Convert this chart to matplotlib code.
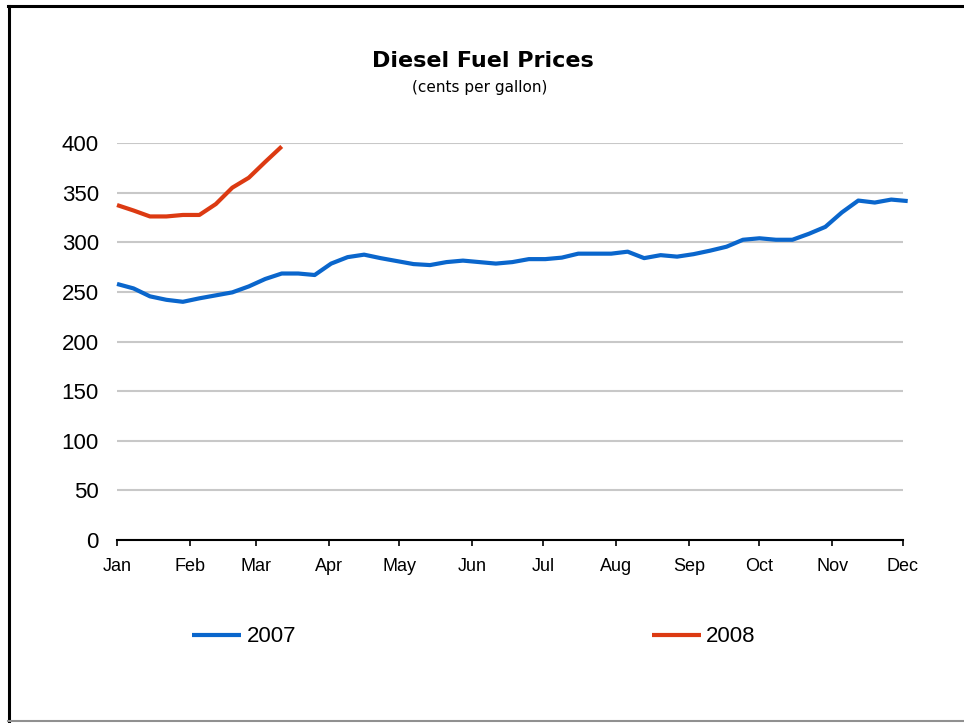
import matplotlib
matplotlib.use('Agg')
import matplotlib.pyplot as plt
import matplotlib.dates as mdates
from matplotlib.lines import Line2D
import pandas as pd

# weekly diesel prices, cents per gallon
price_2007 = [258, 253.5, 245.5, 242, 240, 243.5, 246.5, 249.5, 255.5, 263,
              268.5, 268.5, 267, 278.5, 285, 287.5, 284, 281, 278, 277,
              280, 281.5, 280, 278.5, 280, 283, 283, 284.5, 288.5, 288.5,
              288.5, 290.5, 284, 287, 285.5, 288, 291.5, 295.5, 302.5, 304,
              302.5, 302.5, 308.5, 315.5, 330, 342, 340, 343, 341.5]
price_2008 = [337.5, 332, 326, 326, 327.5, 327.5, 338.5, 355, 365, 381, 396.5]

series_names = ['2007', '2008']
series_colors = ['#0a66cc', '#dc3a12']

title = 'Diesel Fuel Prices'
subtitle = '(cents per gallon)'
y_ticks = [0, 50, 100, 150, 200, 250, 300, 350, 400]

# both years are drawn on one Jan..Dec calendar axis, one point per week
week_dates_07 = pd.date_range('2007-01-01', periods=len(price_2007), freq='7D')
week_dates_08 = pd.date_range('2007-01-01', periods=len(price_2008), freq='7D')

plt.rcParams['font.family'] = ['Liberation Sans', 'DejaVu Sans']

fig = plt.figure(figsize=(9.64, 7.23), dpi=100)
ax = fig.add_axes([117 / 964, 183 / 723, 786 / 964, 397 / 723])

ax.plot(week_dates_07, price_2007, color=series_colors[0], lw=3,
        label=series_names[0], clip_on=False, solid_capstyle='butt', zorder=3)
ax.plot(week_dates_08, price_2008, color=series_colors[1], lw=3,
        label=series_names[1], clip_on=False, solid_capstyle='butt', zorder=3)

ax.set_ylim(0, 400)
ax.set_yticks(y_ticks)
ax.set_xlim(pd.Timestamp('2007-01-01'), pd.Timestamp('2007-12-01'))
ax.xaxis.set_major_locator(mdates.MonthLocator())
ax.xaxis.set_major_formatter(mdates.DateFormatter('%b'))

ax.grid(axis='y', color='#c8c8c8', lw=1.5)
ax.set_axisbelow(True)
for side in ['left', 'right', 'top']:
    ax.spines[side].set_visible(False)
ax.spines['bottom'].set_linewidth(1.5)
ax.spines['bottom'].set_zorder(4)

ax.tick_params(axis='y', length=0, pad=13, labelsize=16)
ax.tick_params(axis='x', length=4.5, width=1.2, pad=8.5, labelsize=13)

# title block uses the wider Verdana-like face
fig.text(0.501, 1 - 67 / 723, title, ha='center', va='baseline',
         fontsize=16, fontweight='bold', family='DejaVu Sans')
fig.text(0.498, 1 - 92 / 723, subtitle, ha='center', va='baseline',
         fontsize=11, family='DejaVu Sans')

fig.legend(loc='center', bbox_to_anchor=(474 / 964, 1 - 637 / 723), ncol=2,
           frameon=False, fontsize=16, handlelength=2.2, handletextpad=0.25,
           columnspacing=16.0)

# frame around the slide
fig.add_artist(Line2D([9 / 964, 9 / 964], [0, 1 - 6 / 723], color='black', lw=2.2))
fig.add_artist(Line2D([8 / 964, 1], [1 - 6 / 723, 1 - 6 / 723], color='black', lw=2.2))
fig.add_artist(Line2D([8 / 964, 1], [2 / 723, 2 / 723], color='#909090', lw=1.5))

fig.savefig('out.png', dpi=100)
